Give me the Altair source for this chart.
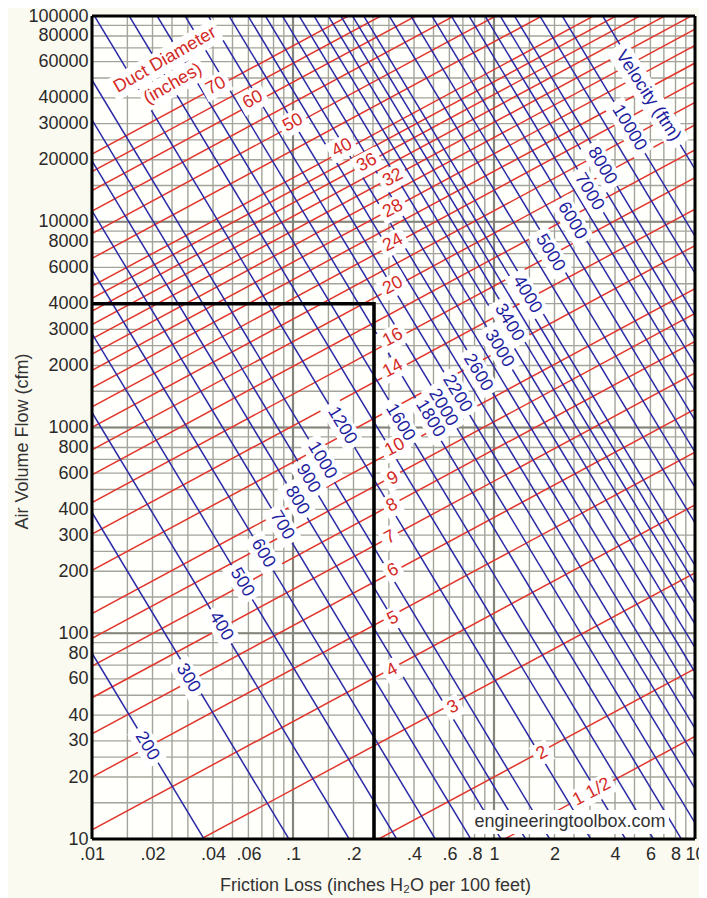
import altair as alt
import pandas as pd

FONT = "Liberation Sans"
RED_LINE = "#E2362C"
BLUE_LINE = "#2A2AA6"
RED_TEXT = "#D42A26"
BLUE_TEXT = "#1E1EA0"

# ---------------- data ----------------
# Duct diameter lines (inches): flow (cfm) where each line meets friction 0.01 and 10
red_diam = [1.5, 2, 3, 4, 5, 6, 7, 8, 9, 10, 12, 14, 16, 18, 20, 22, 24, 26, 28, 30,
            32, 34, 36, 38, 40, 45, 50, 55, 60, 65, 70]
red_flow_at_001 = [0.830, 1.776, 5.18, 11.08, 20.0, 32.4, 48.6, 69.2, 94.4, 124.7,
                   202, 303.4, 431.7, 589.4, 778.4, 1001, 1260, 1557, 1895, 2273,
                   2695, 3164, 3679, 4245, 4861, 6634, 8765, 11280, 14190, 17530, 21330]
red_flow_at_10 = [31.5, 67.3, 196.6, 420.5, 758, 1227, 1844, 2624, 3581, 4732,
                  7662, 11510, 16380, 22360, 29530, 37980, 47800, 59080, 71870, 86200,
                  102200, 120000, 139500, 161000, 184400, 251600, 332500, 427700, 538300,
                  664800, 808800]

# Velocity lines (fpm): flow (cfm) where each line meets friction 0.01 and 10
blue_velocity = [200, 300, 400, 500, 600, 700, 800, 900, 1000, 1200, 1400, 1600, 1800, 2000,
                 2200, 2400, 2600, 2800, 3000, 3200, 3400, 3600, 3800, 4000, 4500, 5000,
                 5500, 6000, 6500, 7000, 7500, 8000, 9000, 10000, 12000]
blue_flow_at_001 = [80.0, 386.4, 1183, 2858, 5848, 11300, 19770, 31260, 48870, 104700,
                    199500, 335000, 562300, 867000, 1274000, 1811000, 2500000, 3428000,
                    4677000, 6166000, 8035000, 10120000, 12590000, 15490000, 24890000,
                    37150000, 54950000, 78700000, 109400000, 147200000, 195000000,
                    254100000, 407400000, 616600000, 1306000000]
blue_flow_at_10 = [0.001104, 0.005333, 0.01633, 0.03945, 0.0807, 0.156, 0.2729, 0.4315,
                   0.6745, 1.445, 2.754, 4.624, 7.762, 11.97, 17.58, 25.0, 34.5, 47.3,
                   64.6, 85.1, 110.9, 139.6, 173.8, 213.8, 343.6, 512.9, 758.6, 1086,
                   1510, 2032, 2692, 3508, 5623, 8511, 18030]

# Labels on the duct diameter lines
red_label_text = ["70", "60", "50", "40", "36", "32", "28", "24", "20", "16", "14",
                  "10", "9", "8", "7", "6", "5", "4", "3", "2", "1 1/2"]
red_label_x = [0.0414, 0.0632, 0.100, 0.1754, 0.2335, 0.3145, 0.3145, 0.3145, 0.3145,
               0.3145, 0.3145, 0.3216, 0.3145, 0.311, 0.304, 0.3145, 0.3145, 0.311,
               0.625, 1.733, 3.07]
red_label_y = [45700, 39100, 30260, 22870, 19330, 16360, 11560, 7907, 4890, 2735, 1933,
               800, 565, 418, 292, 202, 118, 66.1, 43.7, 26.1, 16.9]

# Labels on the velocity lines
blue_label_text = ["200", "300", "400", "500", "600", "700", "800", "900", "1000", "1200",
                   "1600", "1800", "2000", "2200", "2600", "3000", "3400", "4000", "5000",
                   "6000", "7000", "8000", "10000"]
blue_label_x = [0.01877, 0.03003, 0.04384, 0.05576, 0.0709, 0.0882, 0.1047, 0.1188, 0.1394,
                0.1753, 0.3408, 0.4805, 0.5574, 0.6546, 0.8321, 1.06, 1.188, 1.459, 1.9,
                2.443, 2.97, 3.446, 4.695]
blue_label_y = [28.3, 60.5, 108.1, 176.8, 244.5, 334.3, 442, 565, 692, 1023, 1058, 1106,
                1250, 1462, 1849, 2420, 3235, 4424, 7071, 10110, 13980, 18700, 28590]

# Other annotations
note_text = ["Duct Diameter", "(inches)", "Velocity (ftm)", "engineeringtoolbox.com"]
note_x = [0.02308, 0.0253, 5.84, 2.388]
note_y = [61100, 46770, 40900, 12.09]

# Marked example: 4000 cfm, friction 0.253
example_x = [0.01, 0.253, 0.253]
example_y = [4000, 4000, 10]

# Axes
x_tick_values = [0.01, 0.02, 0.04, 0.06, 0.1, 0.2, 0.4, 0.6, 0.8, 1, 2, 4, 6, 8, 10]
y_tick_values = [10, 20, 30, 40, 60, 80, 100, 200, 300, 400, 600, 800, 1000, 2000, 3000,
                 4000, 6000, 8000, 10000, 20000, 30000, 40000, 60000, 80000, 100000]
grid_multiples = [1, 1.5, 2, 2.5, 3, 4, 5, 6, 7, 8, 9]
x_decades = [0.01, 0.1, 1]
y_decades = [10, 100, 1000, 10000]
x_edges = [0.01, 10]
y_edges = [10, 100000]

# ---------------- build tables ----------------
nr = len(red_diam)
red_df = pd.DataFrame({
    "id": [f"d{d}" for d in red_diam] * 2,
    "x": [0.01] * nr + [10] * nr,
    "y": red_flow_at_001 + red_flow_at_10,
})
nb = len(blue_velocity)
blue_df = pd.DataFrame({
    "id": [f"v{v}" for v in blue_velocity] * 2,
    "x": [0.01] * nb + [10] * nb,
    "y": blue_flow_at_001 + blue_flow_at_10,
})

grid_x = [m * d for d in x_decades for m in grid_multiples]
grid_y = [m * d for d in y_decades for m in grid_multiples]
gx_df = pd.DataFrame({"x": grid_x})
gy_df = pd.DataFrame({"y": grid_y})
mx_df = pd.DataFrame({"x": x_decades})
my_df = pd.DataFrame({"y": y_decades})
ex_edge_df = pd.DataFrame({"x": x_edges})
ey_edge_df = pd.DataFrame({"y": y_edges})


def text_width(t, fs):
    w = 0.0
    for c in t:
        if c.isdigit():
            w += 0.556 * fs
        elif c in " /()ijlt.":
            w += 0.28 * fs
        elif c in "mw":
            w += 0.83 * fs
        elif c.isupper():
            w += 0.68 * fs
        else:
            w += 0.52 * fs
    return w


def box_path(w, h):
    return f"M{-w/2:.1f},{-h/2:.1f}H{w/2:.1f}V{h/2:.1f}H{-w/2:.1f}Z"


rows = []
for t, x, y in zip(red_label_text, red_label_x, red_label_y):
    rows.append(dict(x=x, y=y, t=t, c=RED_TEXT, ang=332, fs=18,
                     path=box_path(text_width(t, 18) + 8, 22)))
for t, x, y in zip(blue_label_text, blue_label_x, blue_label_y):
    rows.append(dict(x=x, y=y, t=t, c=BLUE_TEXT, ang=59, fs=18,
                     path=box_path(text_width(t, 18) + 10, 22)))
note_color = [RED_TEXT, RED_TEXT, BLUE_TEXT, "#333333"]
note_angle = [330, 330, 57, 0]
for t, x, y, c, a in zip(note_text, note_x, note_y, note_color, note_angle):
    rows.append(dict(x=x, y=y, t=t, c=c, ang=a, fs=18,
                     path=box_path(text_width(t, 18) + 8, 24)))
lab_df = pd.DataFrame(rows)

ex_df = pd.DataFrame({"x": example_x, "y": example_y, "o": [0, 1, 2]})

# ---------------- chart ----------------
xs = alt.Scale(type="log", domain=[0.01, 10], nice=False)
ys = alt.Scale(type="log", domain=[10, 100000], nice=False)

x_axis = alt.Axis(values=x_tick_values,
                  labelExpr="datum.value < 1 ? slice(toString(datum.value), 1) : toString(datum.value)",
                  title="Friction Loss (inches H₂O per 100 feet)",
                  grid=False, ticks=False, domain=False, labelOverlap=False, labelFlush=False,
                  labelPadding=6, titleX=283, titleY=46, titleBaseline="middle", titleAlign="center")
y_axis = alt.Axis(values=y_tick_values, format="d", title="Air Volume Flow (cfm)",
                  grid=False, ticks=False, domain=False, labelOverlap=False, labelFlush=False,
                  labelPadding=4, titleX=-70, titleY=425, titleBaseline="middle",
                  titleAlign="center", titleAngle=270)


def X(f="x"):
    return alt.X(f"{f}:Q", scale=xs, axis=x_axis)


def Y(f="y"):
    return alt.Y(f"{f}:Q", scale=ys, axis=y_axis)


grid_v = alt.Chart(gx_df).mark_rule(color="#A4A49C", strokeWidth=1.4).encode(x=X())
grid_h = alt.Chart(gy_df).mark_rule(color="#A4A49C", strokeWidth=1.4).encode(y=Y())
major_v = alt.Chart(mx_df).mark_rule(color="#85857D", strokeWidth=2.2).encode(x=X())
major_h = alt.Chart(my_df).mark_rule(color="#85857D", strokeWidth=2.2).encode(y=Y())

red = alt.Chart(red_df).mark_line(clip=True, color=RED_LINE, strokeWidth=1.5).encode(
    x=X(), y=Y(), detail="id:N")
blue = alt.Chart(blue_df).mark_line(clip=True, color=BLUE_LINE, strokeWidth=1.5).encode(
    x=X(), y=Y(), detail="id:N")

boxes = alt.Chart(lab_df).mark_point(filled=True, size=4, opacity=1, color="white",
                                     strokeWidth=0).encode(
    x=X(), y=Y(),
    shape=alt.Shape("path:N", scale=None),
    angle=alt.Angle("ang:Q", scale=None))

texts = alt.Chart(lab_df).mark_text(font=FONT, align="center", baseline="middle").encode(
    x=X(), y=Y(), text="t:N",
    color=alt.Color("c:N", scale=None),
    angle=alt.Angle("ang:Q", scale=None),
    size=alt.Size("fs:Q", scale=None))

example = alt.Chart(ex_df).mark_line(color="black", strokeWidth=3.5).encode(
    x=X(), y=Y(), order="o:Q")

border_v = alt.Chart(ex_edge_df).mark_rule(color="black", strokeWidth=3).encode(x=X())
border_h = alt.Chart(ey_edge_df).mark_rule(color="black", strokeWidth=3).encode(y=Y())

chart = alt.layer(grid_v, grid_h, major_v, major_h, red, blue, boxes, texts, example,
                  border_v, border_h).properties(
    width=603, height=823,
    background="#FBFAF1",
    padding={"left": 84, "top": 8, "right": 4, "bottom": 59},
    autosize=alt.AutoSizeParams(type="none"),
).configure_axis(
    labelFont=FONT, labelFontSize=18, labelColor="#2A2A2A",
    titleFont=FONT, titleFontSize=18, titleFontWeight="normal", titleColor="#333333",
).configure_view(stroke=None, fill="#FFFFFB")

chart.save("out.html", embed_options={"renderer": "svg", "actions": False})
